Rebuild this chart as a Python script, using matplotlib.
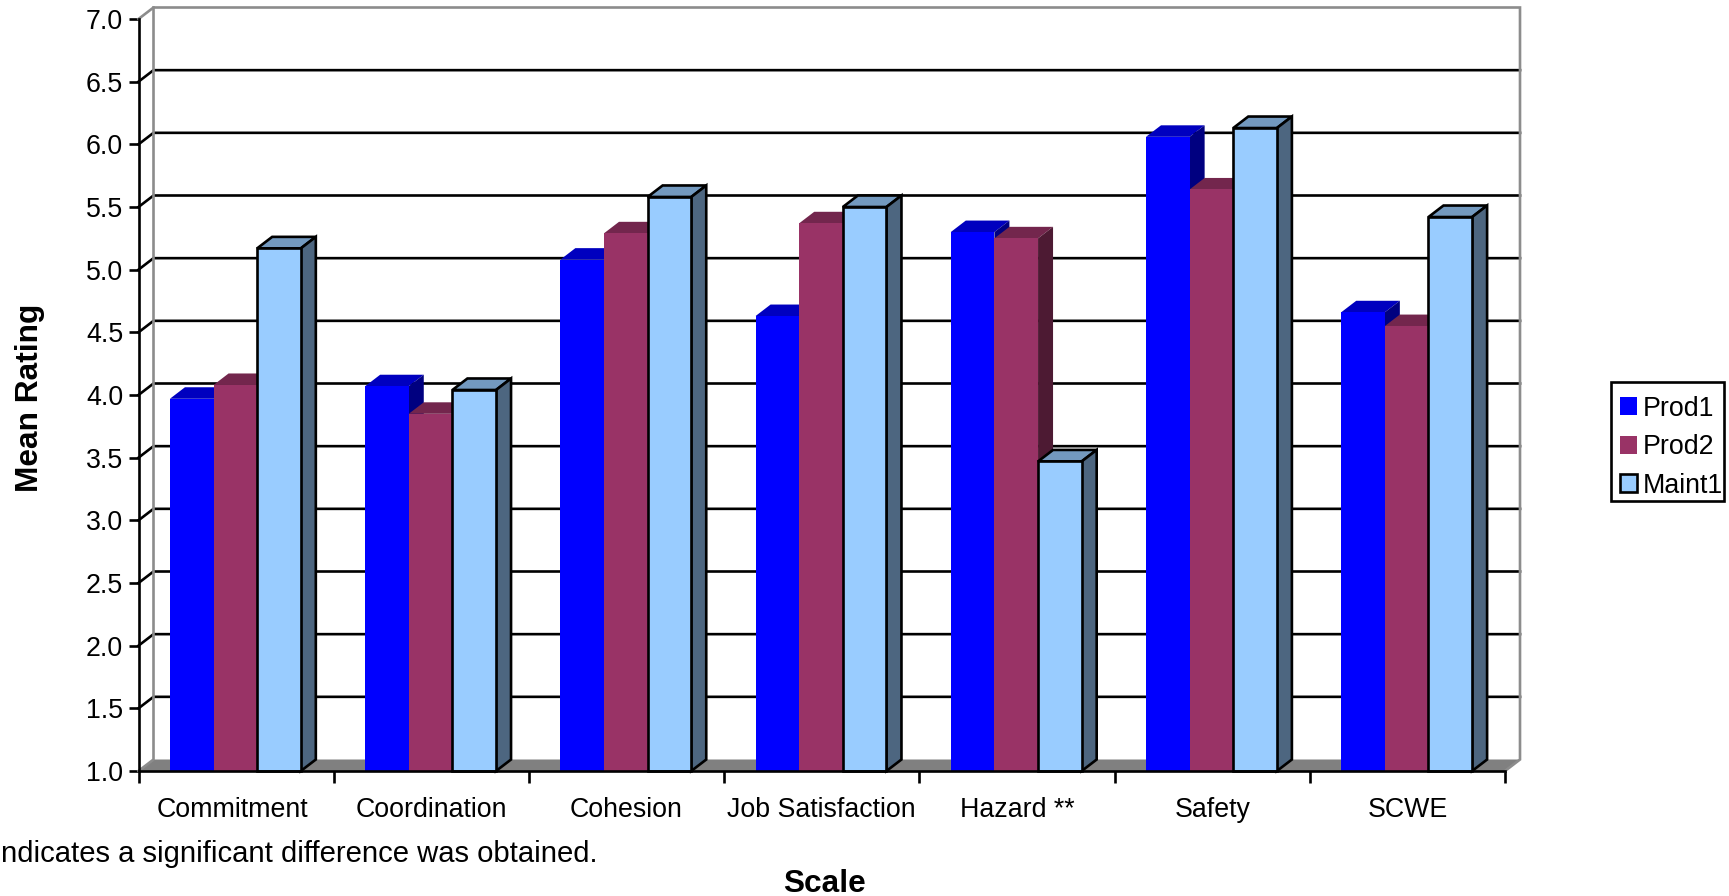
import matplotlib
matplotlib.use("Agg")
import numpy as np
import matplotlib.pyplot as plt
from matplotlib.patches import Patch, Rectangle
from matplotlib.transforms import ScaledTranslation

plt.rcParams["font.family"] = ["Liberation Sans", "DejaVu Sans"]

# ---------------------------------------------------------------------------
# Data
# ---------------------------------------------------------------------------

categories = ["Commitment", "Coordination", "Cohesion", "Job Satisfaction", "Hazard **", "Safety", "SCWE"]
prod1 = [3.97, 4.07, 5.08, 4.63, 5.30, 6.06, 4.66]
prod2 = [4.08, 3.85, 5.29, 5.37, 5.25, 5.64, 4.55]
maint1 = [5.17, 4.04, 5.58, 5.50, 3.47, 6.13, 5.42]
y_ticks = [1.0, 1.5, 2.0, 2.5, 3.0, 3.5, 4.0, 4.5, 5.0, 5.5, 6.0, 6.5, 7.0]

# front, top and side colour of each series, edge colour of the box
series = [
    ("Prod1", prod1, "#0000FF", "#0000BF", "#000080", "none"),
    ("Prod2", prod2, "#993366", "#73264D", "#4D1A33", "none"),
    ("Maint1", maint1, "#99CCFF", "#7399BF", "#4D6680", "black"),
]

W, H = 1729, 896
FONT = 19.3
LW = 1.9

# depth of the fake 3D box, in data units
DX = 15 / 195.2
DY = 11.5 / 125.33
BAR_W = 0.2235
BAR_START = 0.161

fig = plt.figure(figsize=(W / 100, H / 100), dpi=100)
ax = fig.add_axes([138.5 / W, 1 - 771 / H, (1505 - 138.5) / W, (771 - 19) / H])
ax.set_xlim(0, len(categories))
ax.set_ylim(1, 7)
ax.patch.set_visible(False)

# ---------------------------------------------------------------------------
# Walls, floor and gridlines
# ---------------------------------------------------------------------------

n = len(categories)
wall = "#8C8C8C"
ax.fill([0, n, n + DX, DX], [1, 1, 1 + DY, 1 + DY], color="#808080", lw=0, zorder=1, clip_on=False)
for y in y_ticks[1:-1]:
    ax.plot([0, DX, n + DX], [y, y + DY, y + DY], color="black", lw=LW, zorder=2, clip_on=False,
            solid_joinstyle="miter")
ax.plot([0, DX, n + DX, n + DX, n], [7, 7 + DY, 7 + DY, 1 + DY, 1], color=wall, lw=LW, zorder=2.5,
        clip_on=False, solid_joinstyle="miter")
ax.plot([0, DX, DX], [1, 1 + DY, 7 + DY], color=wall, lw=LW, zorder=2.5, clip_on=False)

# ---------------------------------------------------------------------------
# Bars, painted left to right so nearer faces cover the ones behind
# ---------------------------------------------------------------------------

z = 3
for c in range(n):
    for s, (name, vals, front, top, side, edge) in enumerate(series):
        x0 = c + BAR_START + s * BAR_W
        x1 = x0 + BAR_W
        v = vals[c]
        lw = LW if edge != "none" else 0
        ax.fill([x0, x1, x1 + DX, x0 + DX], [v, v, v + DY, v + DY], facecolor=top, edgecolor=edge, lw=lw,
                zorder=z, clip_on=False, joinstyle="miter")
        ax.fill([x1, x1 + DX, x1 + DX, x1], [1, 1 + DY, v + DY, v], facecolor=side, edgecolor=edge, lw=lw,
                zorder=z, clip_on=False, joinstyle="miter")
        ax.bar(x0, v - 1, BAR_W, bottom=1, align="edge", color=front, edgecolor=edge, lw=lw, zorder=z,
               clip_on=False)
        z += 1

# ---------------------------------------------------------------------------
# Axes and text
# ---------------------------------------------------------------------------

for name in ["top", "right"]:
    ax.spines[name].set_visible(False)
for name in ["left", "bottom"]:
    ax.spines[name].set_linewidth(LW)
    ax.spines[name].set_zorder(z + 1)

ax.set_yticks(y_ticks)
ax.set_yticklabels([f"{y:.1f}" for y in y_ticks], fontsize=FONT)
ax.tick_params(axis="y", length=7.5, width=LW, pad=3.5)
ax.set_xticks(np.arange(n + 1))
ax.set_xticklabels([])
ax.set_xticks(np.arange(n) + 0.5, minor=True)
ax.set_xticklabels(categories, minor=True, fontsize=FONT)
ax.tick_params(axis="x", which="major", length=8.5, width=LW)
ax.tick_params(axis="x", which="minor", length=0, pad=18.4)

# the first label sits a little left of its group
first = ax.xaxis.get_minorticklabels()[0]
first.set_transform(first.get_transform() + ScaledTranslation(-0.04, 0, fig.dpi_scale_trans))

fig.text(30 / W, 1 - 398 / H, "Mean Rating", rotation=90, fontsize=22.8, fontweight="bold",
         ha="center", va="center")
fig.text(825 / W, 1 - 883.5 / H, "Scale", fontsize=22.8, fontweight="bold", ha="center", va="center")
fig.text(1 / W, 1 - 862 / H, "ndicates a significant difference was obtained.", fontsize=21.03,
         ha="left", va="baseline")

# legend entries without a frame, the box is drawn on its own
handles = [Patch(facecolor=f, edgecolor=e, lw=LW if e != "none" else 0) for _, _, f, _, _, e in series]
fig.legend(handles, [s[0] for s in series], loc="upper left", bbox_to_anchor=(1612 / W, 1 - 387.5 / H),
           fontsize=FONT, frameon=False, borderaxespad=0, borderpad=0.3, handlelength=0.64, handleheight=0.64,
           handletextpad=0.2, labelspacing=0.47)
fig.add_artist(Rectangle((1611 / W, 1 - 501 / H), 113 / W, 118.5 / H, transform=fig.transFigure,
                         facecolor="none", edgecolor="black", lw=LW))

fig.savefig("out.png", dpi=100)
